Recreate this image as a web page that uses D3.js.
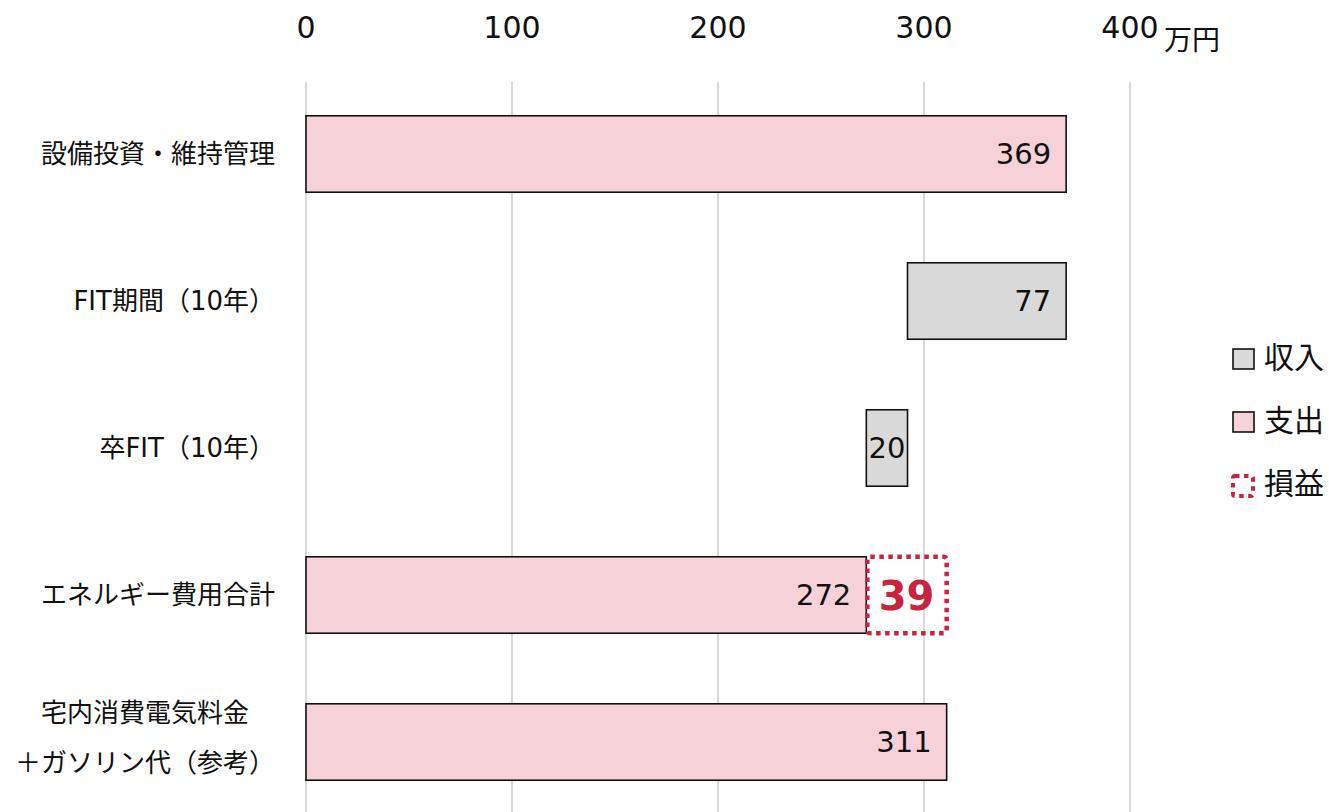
<!DOCTYPE html>
<head>
	<meta charset="utf-8" />
	<style>
		body {
			margin: 0;
			background-color: #fff;
			font-family: "DejaVu Sans", "Noto Sans CJK JP", sans-serif;
		}
	</style>
</head>
<body>
	<svg id="chart" width="1329" height="812"></svg>
	<script src="https://cdnjs.cloudflare.com/ajax/libs/d3/7.8.5/d3.min.js"></script>
	<script>
		// 項目と値（万円）
		const categories = ['設備投資・維持管理', 'FIT期間（10年）', '卒FIT（10年）', 'エネルギー費用合計', '宅内消費電気料金\n＋ガソリン代（参考）'];
		const starts = [0, 292, 272, 0, 0];
		const values = [369, 77, 20, 272, 311];
		const kinds = ['支出', '収入', '収入', '支出', '支出'];
		const profitStart = 272;
		const profitValue = 39;
		const ticks = [0, 100, 200, 300, 400];
		const legendItems = ['収入', '支出', '損益'];

		const colors = { '収入': '#d9d9d9', '支出': '#f6d1d8' };
		const red = '#c8233f';

		const svg = d3.select('#chart');

		const x = d3.scaleLinear().domain([0, 400]).range([306, 1130]);
		const y = d3.scaleBand()
			.domain(d3.range(categories.length))
			.range([80.5, 815.5])
			.paddingInner(0.48)
			.paddingOuter(0.24);

		// grid
		svg.append('g')
			.selectAll('line')
			.data(ticks)
			.join('line')
			.attr('x1', d => x(d)).attr('x2', d => x(d))
			.attr('y1', 82).attr('y2', 812)
			.attr('stroke', '#d9d9d9')
			.attr('stroke-width', 2);

		// top axis labels
		svg.append('g')
			.selectAll('text')
			.data(ticks)
			.join('text')
			.attr('x', d => x(d))
			.attr('y', 38)
			.attr('text-anchor', 'middle')
			.attr('font-size', 30)
			.attr('fill', '#111')
			.text(d => d);

		svg.append('text')
			.attr('x', 1164).attr('y', 50)
			.attr('font-size', 28)
			.attr('fill', '#111')
			.text('万円');

		const rows = categories.map((c, i) => ({ c, i, start: starts[i], value: values[i], kind: kinds[i] }));

		// bars
		svg.append('g')
			.selectAll('rect')
			.data(rows)
			.join('rect')
			.attr('x', d => x(d.start))
			.attr('y', d => y(d.i))
			.attr('width', d => x(d.start + d.value) - x(d.start))
			.attr('height', y.bandwidth())
			.attr('fill', d => colors[d.kind])
			.attr('stroke', '#111')
			.attr('stroke-width', 1.6);

		// value labels
		svg.append('g')
			.selectAll('text')
			.data(rows)
			.join('text')
			.attr('x', d => {
				const w = x(d.start + d.value) - x(d.start);
				return w < 60 ? x(d.start) + w / 2 : x(d.start + d.value) - 15;
			})
			.attr('y', d => y(d.i) + y.bandwidth() / 2 + 10)
			.attr('text-anchor', d => (x(d.start + d.value) - x(d.start) < 60 ? 'middle' : 'end'))
			.attr('font-size', 29)
			.attr('fill', '#111')
			.text(d => d.value);

		// profit box
		const pi = 3;
		svg.append('rect')
			.attr('x', x(profitStart) + 1)
			.attr('y', y(pi))
			.attr('width', x(profitStart + profitValue) - x(profitStart) - 1)
			.attr('height', y.bandwidth())
			.attr('rx', 3)
			.attr('fill', 'none')
			.attr('stroke', red)
			.attr('stroke-width', 4.5)
			.attr('stroke-dasharray', '4.5 4.5');

		svg.append('text')
			.attr('x', (x(profitStart) + x(profitStart + profitValue)) / 2)
			.attr('y', y(pi) + y.bandwidth() / 2 + 15)
			.attr('text-anchor', 'middle')
			.attr('font-size', 40)
			.attr('font-weight', 'bold')
			.attr('fill', red)
			.text(profitValue);

		// category labels
		const labelRight = 275;
		const lab = svg.append('g')
			.selectAll('text')
			.data(rows)
			.join('text')
			.attr('font-size', 26)
			.attr('fill', '#111');
		lab.each(function (d) {
			const lines = d.c.split('\n');
			const cy = y(d.i) + y.bandwidth() / 2;
			const t = d3.select(this);
			if (lines.length === 1) {
				t.attr('text-anchor', 'end')
					.attr('x', labelRight)
					.attr('y', cy + 9)
					.text(lines[0]);
			} else {
				t.attr('text-anchor', 'middle');
				const spans = lines.map((l, k) => t.append('tspan')
					.attr('y', cy - 20 + k * 50)
					.text(l));
				const wmax = d3.max(spans, s => s.node().getComputedTextLength());
				spans.forEach(s => s.attr('x', labelRight - wmax / 2));
			}
		});

		// legend
		const lg = svg.append('g');
		legendItems.forEach((name, i) => {
			const cy = 357 + i * 63;
			if (name === '損益') {
				lg.append('rect')
					.attr('x', 1233).attr('y', cy - 7)
					.attr('width', 20).attr('height', 20)
					.attr('rx', 2)
					.attr('fill', 'none')
					.attr('stroke', red)
					.attr('stroke-width', 4)
					.attr('stroke-dasharray', '4.5 4.5');
			} else {
				lg.append('rect')
					.attr('x', 1233).attr('y', cy - 8)
					.attr('width', 21).attr('height', 20)
					.attr('fill', colors[name])
					.attr('stroke', '#111')
					.attr('stroke-width', 1.6);
			}
			lg.append('text')
				.attr('x', 1264).attr('y', cy + 11)
				.attr('font-size', 30)
				.attr('fill', '#111')
				.text(name);
		});
	</script>
</body>
